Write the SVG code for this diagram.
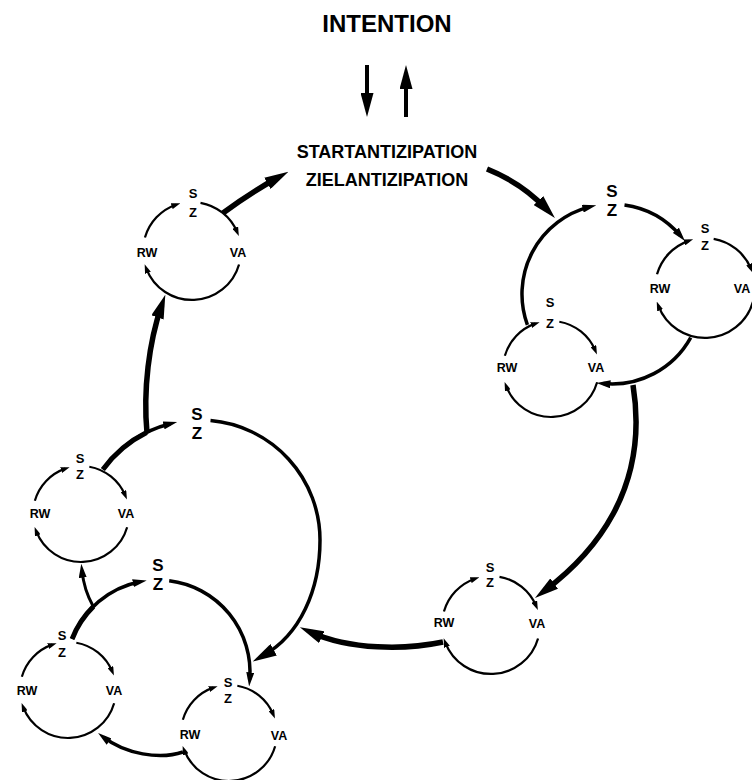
<svg xmlns="http://www.w3.org/2000/svg" width="752" height="780" viewBox="0 0 752 780">
<style>
.t{font-family:"Liberation Sans",Arial,Helvetica,sans-serif;font-weight:bold;fill:#000;text-anchor:middle}
.ti{font-size:24px}
.ta{font-size:18px}
.sz{font-size:17px}
.ss{font-size:13px}
.lb{font-size:12.5px}
.arc{fill:none;stroke:#000;stroke-width:3.5}
.arcb{fill:none;stroke:#000;stroke-width:5}
.thick{fill:none;stroke:#000;stroke-width:5.5}
.thin{fill:none;stroke:#000;stroke-width:3}
.vert{fill:none;stroke:#000;stroke-width:4}
</style>
<defs>
<marker id="sm" viewBox="0 0 9 6" refX="4.5" refY="3" markerWidth="9" markerHeight="6" orient="auto" markerUnits="userSpaceOnUse"><path d="M0 0L9 3L0 6z" fill="#000"/></marker>
<marker id="md" viewBox="0 0 14 8" refX="7" refY="4" markerWidth="14" markerHeight="8" orient="auto" markerUnits="userSpaceOnUse"><path d="M0 0L14 4L0 8z" fill="#000"/></marker>
<marker id="lg" viewBox="0 0 24 13" refX="12" refY="6.5" markerWidth="24" markerHeight="13" orient="auto" markerUnits="userSpaceOnUse"><path d="M0 0L24 6.5L0 13z" fill="#000"/></marker>
<g id="ring" fill="none" stroke="#000" stroke-width="2.2">
<path d="M-46.14 -13.23A48 48 0 0 1 -15.63 -45.38" marker-end="url(#sm)"/>
<path d="M8.33 -47.27A48 48 0 0 1 44.18 -18.75" marker-end="url(#sm)"/>
<path d="M46.14 13.23A48 48 0 0 1 -44.81 17.2" marker-end="url(#sm)"/>
</g>
</defs>
<rect width="752" height="780" fill="#fff"/>

<g id="intention">
<text class="t ti" x="387" y="32">INTENTION</text>
</g>
<g id="antizipation">
<text class="t ta" x="387" y="158">STARTANTIZIPATION</text>
<text class="t ta" x="387" y="186">ZIELANTIZIPATION</text>
</g>

<g id="tote-a">
<use href="#ring" transform="translate(192 251) scale(1.02)"/>
<text class="t ss" x="193" y="198">S</text>
<text class="t ss" x="193" y="217">Z</text>
<text class="t lb" x="147" y="257">RW</text>
<text class="t lb" x="238" y="257">VA</text>
</g>

<g id="tote-right-medium">
<path class="arc" d="M527.4 324.8A90 90 0 0 1 589.5 206.9" marker-end="url(#md)"/>
<path class="arc" d="M624.5 204.9A90 90 0 0 1 680.4 235.6" marker-end="url(#md)"/>
<path class="arc" d="M690.7 337.6A90 90 0 0 1 603.4 383.6" marker-end="url(#md)"/>
<text class="t sz" x="612" y="197">S</text>
<text class="t sz" x="612" y="216">Z</text>
</g>

<g id="tote-b">
<use href="#ring" transform="translate(705 288) scale(1.04)"/>
<text class="t ss" x="705" y="233">S</text>
<text class="t ss" x="705" y="250">Z</text>
<text class="t lb" x="660" y="293">RW</text>
<text class="t lb" x="742" y="293">VA</text>
</g>

<g id="tote-c">
<use href="#ring" transform="translate(551 369)"/>
<text class="t ss" x="550" y="307">S</text>
<text class="t ss" x="550" y="328">Z</text>
<text class="t lb" x="507" y="372">RW</text>
<text class="t lb" x="596" y="372">VA</text>
</g>

<g id="tote-f">
<use href="#ring" transform="translate(491 625) scale(1.02)"/>
<text class="t ss" x="490" y="572">S</text>
<text class="t ss" x="490" y="587">Z</text>
<text class="t lb" x="444" y="627">RW</text>
<text class="t lb" x="537" y="628">VA</text>
</g>

<g id="tote-lower-big">
<path class="arcb" d="M102.9 469.5A120 120 0 0 1 146.6 432.5"/>
<path class="arc" d="M102.9 469.5A120 120 0 0 1 170.4 423.7" marker-end="url(#md)"/>
<path class="arc" d="M210.5 420.5A120 120 0 0 1 320 540C320 590 300 635 263.2 655.6" marker-end="url(#lg)"/>
<text class="t sz" x="197" y="420">S</text>
<text class="t sz" x="197" y="439">Z</text>
</g>

<g id="tote-d">
<use href="#ring" transform="translate(81 514)"/>
<text class="t ss" x="80" y="463">S</text>
<text class="t ss" x="80" y="479">Z</text>
<text class="t lb" x="40" y="518">RW</text>
<text class="t lb" x="126" y="518">VA</text>
</g>

<g id="tote-lower-mid">
<path class="arcb" d="M72.1 639A92 92 0 0 1 93.4 606.5"/>
<path class="arc" d="M72.1 639A92 92 0 0 1 139.8 581.8" marker-end="url(#md)"/>
<path class="arc" d="M169.2 580.7A92 92 0 0 1 249.7 679.4" marker-end="url(#md)"/>
<text class="t sz" x="158" y="571">S</text>
<text class="t sz" x="158" y="590">Z</text>
</g>

<g id="tote-e">
<use href="#ring" transform="translate(68 690)"/>
<text class="t ss" x="62" y="640">S</text>
<text class="t ss" x="62" y="657">Z</text>
<text class="t lb" x="27" y="695">RW</text>
<text class="t lb" x="114" y="695">VA</text>
</g>

<g id="tote-g">
<use href="#ring" transform="translate(229 733)"/>
<text class="t ss" x="228" y="687">S</text>
<text class="t ss" x="228" y="703">Z</text>
<text class="t lb" x="190" y="739">RW</text>
<text class="t lb" x="279" y="740">VA</text>
</g>

<g id="connectors">
<path class="vert" d="M367 65L367 105" marker-end="url(#lg)"/>
<path class="vert" d="M406 117L406 77" marker-end="url(#lg)"/>
<path class="thick" d="M223 213Q250 193 277.9 177.5" marker-end="url(#lg)"/>
<path class="thick" d="M487 169Q522 183 546.7 209.3" marker-end="url(#lg)"/>
<path class="thick" d="M633 385C650 490 592.6 554.8 544.6 590.8" marker-end="url(#lg)"/>
<path class="thick" d="M443 642C405 650 350 650 310.8 632.2" marker-end="url(#lg)"/>
<path class="thick" d="M147 433C143 390 149 342 161.4 306.1" marker-end="url(#lg)"/>
<path class="thin" d="M93 606Q84 590 82 570.7" marker-end="url(#md)"/>
<path class="arc" d="M183 752C160 760 125 754 103.6 737.2" marker-end="url(#md)"/>
</g>
</svg>
